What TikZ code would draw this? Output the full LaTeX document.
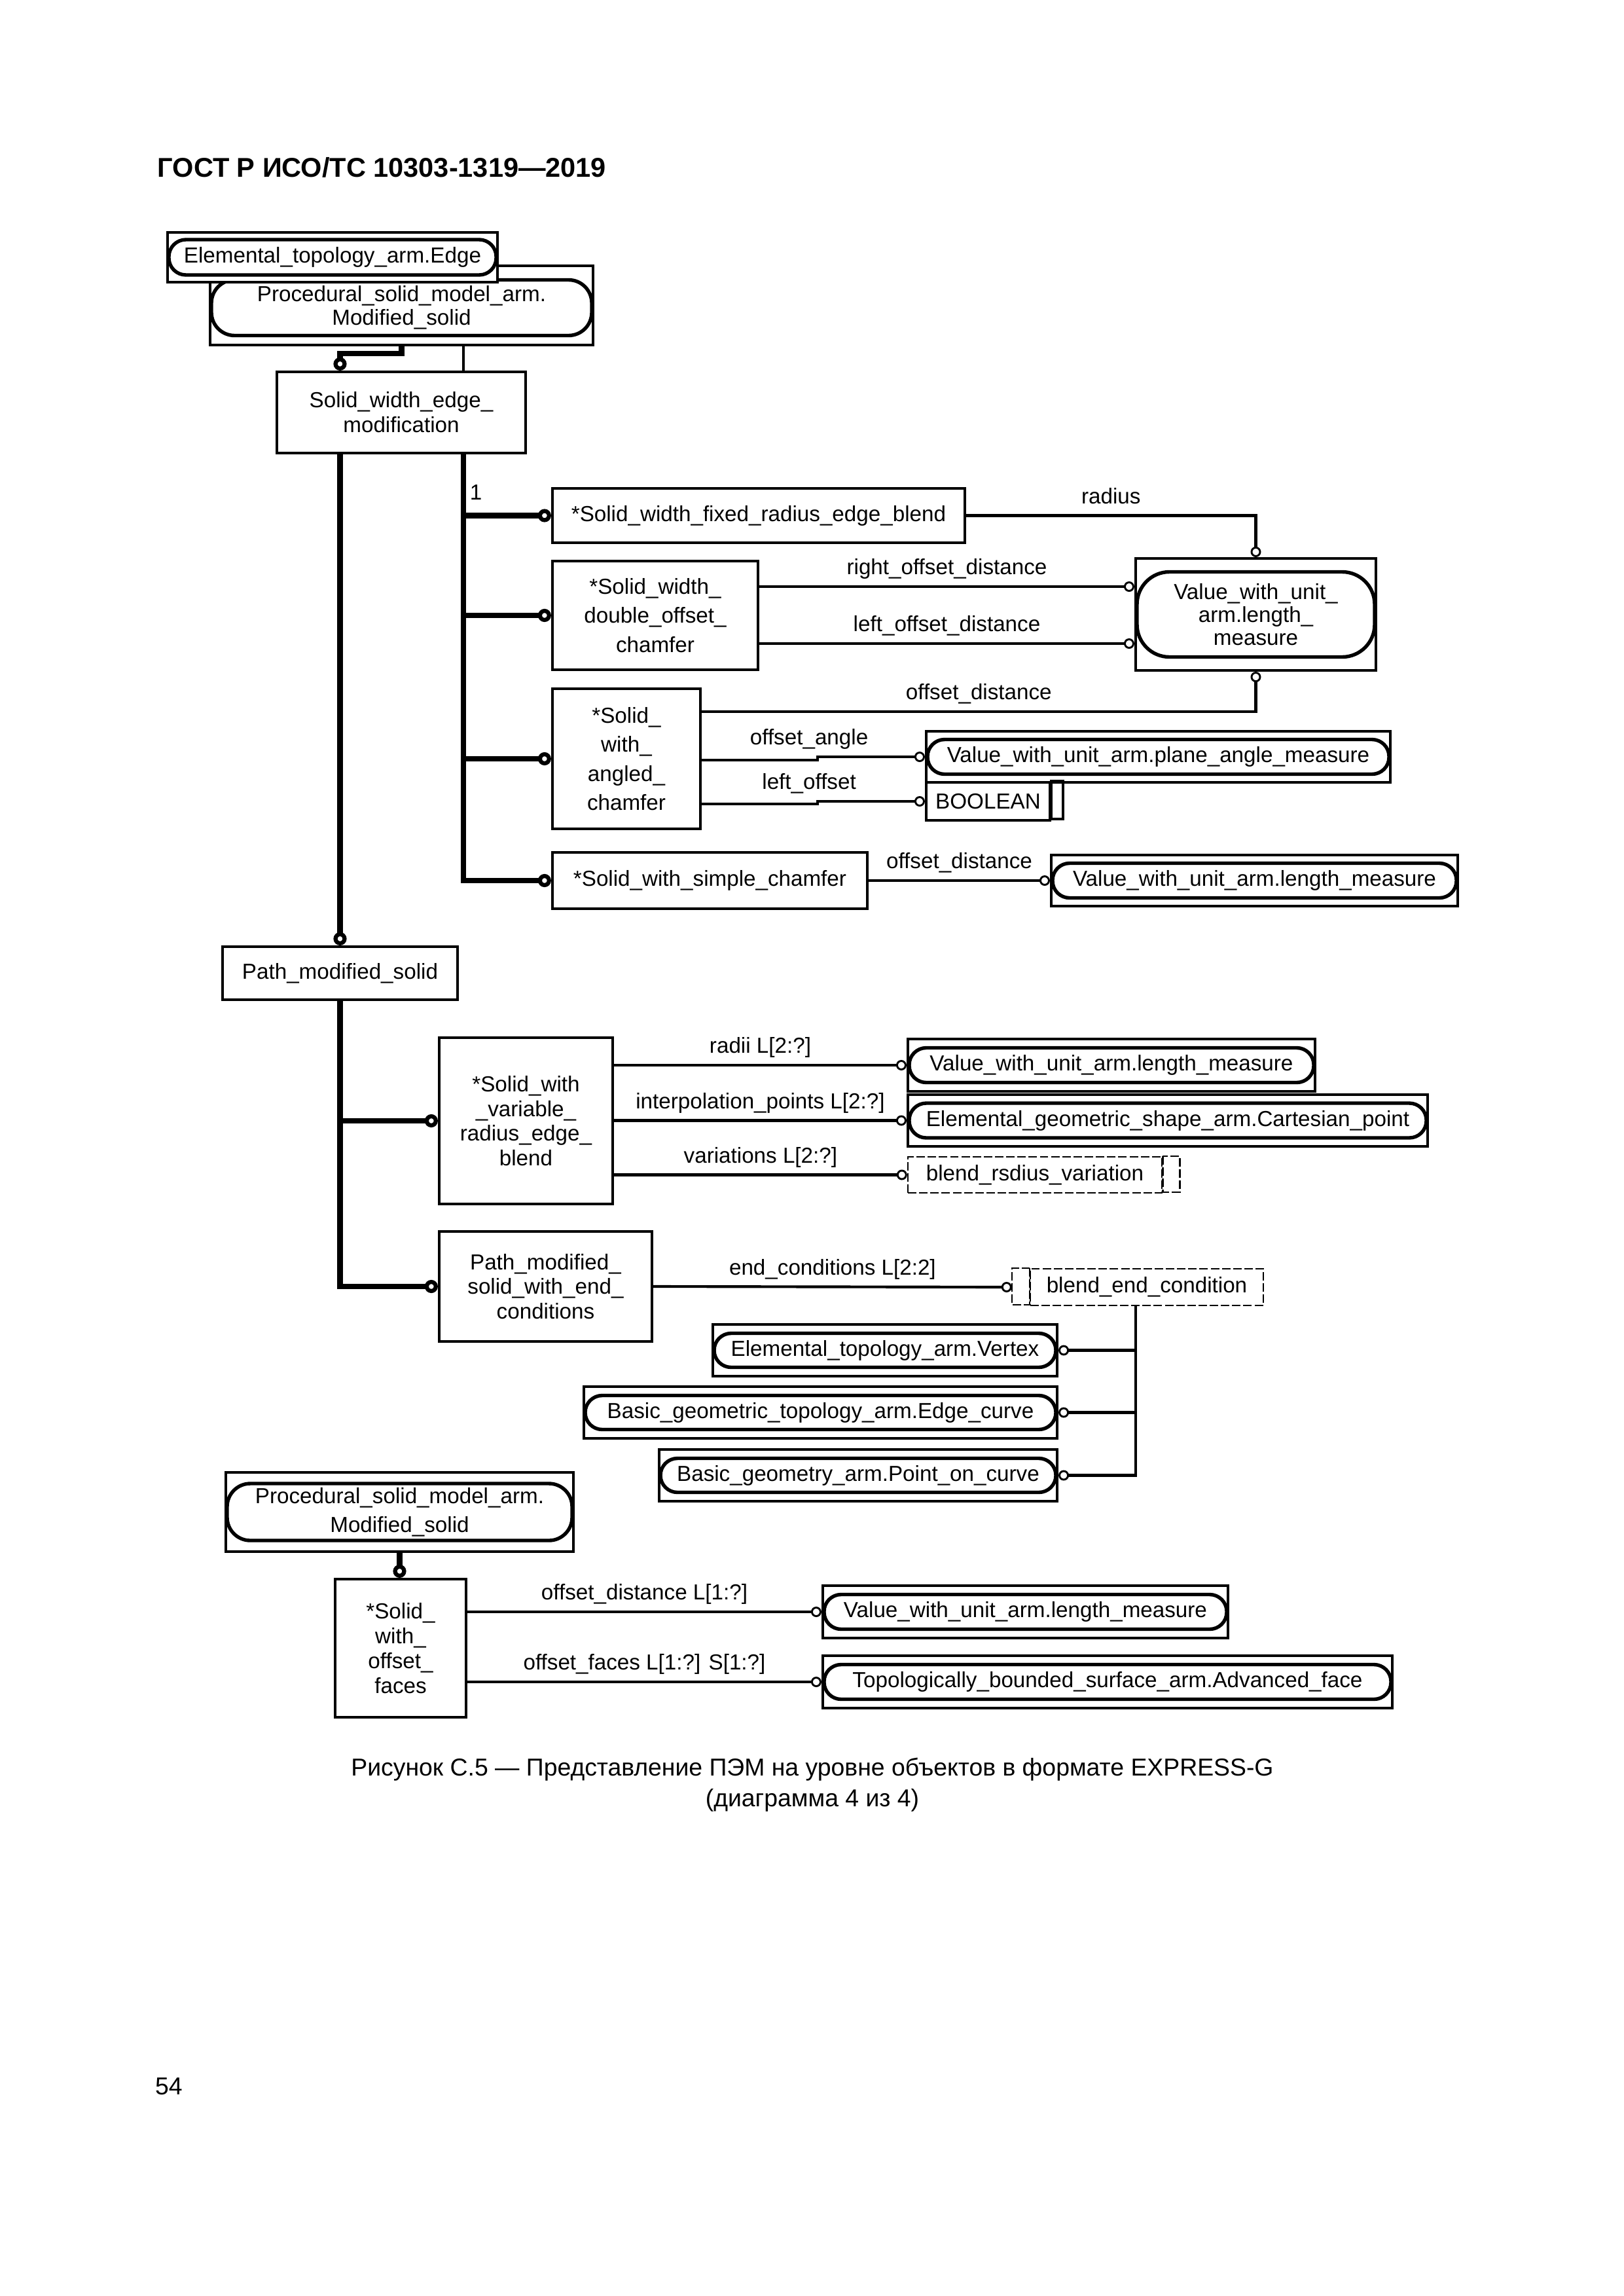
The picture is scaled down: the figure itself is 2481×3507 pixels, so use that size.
\documentclass[tikz,border=0pt]{standalone}
\usepackage{fontspec}
\setmainfont{Liberation Sans}
\usetikzlibrary{arrows.meta}
\newlength{\gpx}
\setlength{\gpx}{0.08467mm}

\begin{document}
\begin{tikzpicture}[
    x=0.08467mm, y=-0.08467mm,
    every node/.style={
      font=\fontsize{8}{9.1}\selectfont, align=center, inner sep=0pt
    },
    ent/.style={
      rectangle, draw, line width=1pt, fill=white
    },
    refbox/.style={
      rectangle, draw, line width=1pt, fill=white
    },
    refname/.style={
      rectangle, draw, line width=1.3pt, rounded corners=2.2mm
    },
    selline/.style={
      line width=0.6pt, dash pattern=on 1.1mm off 0.35mm
    },
    seltype/.style={
      rectangle, draw, selline
    },
    lbl/.style={
      text height=6pt, text depth=1.7pt
    },
    subl/.style={
      line width=2pt, -{Circle[open, line width=1.5pt, length=1.7mm, width=1.7mm]}
    },
    rell/.style={
      line width=1pt, -{Circle[open, line width=0.7pt, length=1.35mm, width=1.35mm]}
    }
    ]
  \fill[white] (0,0) rectangle (2481,3507);

  \node[anchor=base west, font=\bfseries\fontsize{10}{12}\selectfont] (hdr) at (240,270) {ГОСТ Р ИСО/ТС 10303-1319—2019};

  \node[refbox, minimum width=585\gpx, minimum height=121\gpx] (psmA) at (613.5,466.5) {};
  \node[refname, minimum width=581\gpx, minimum height=85\gpx, rounded corners=3mm, font=\fontsize{8}{8.6}\selectfont] (psmAt) at (613.5,470) {Procedural\_solid\_model\_arm.\\Modified\_solid};
  \node[refbox, minimum width=504\gpx, minimum height=76\gpx] (edg) at (508,393) {};
  \node[refname, minimum width=500\gpx, minimum height=54\gpx] (edgt) at (edg) {Elemental\_topology\_arm.Edge};

  \node[ent, minimum width=380\gpx, minimum height=124\gpx] (swem) at (613,630) {Solid\_width\_edge\_\\modification};
  \node[ent, minimum width=359\gpx, minimum height=81\gpx] (pms) at (519.5,1486.5) {Path\_modified\_solid};

  \node[ent, minimum width=630\gpx, minimum height=83\gpx] (fixed) at (1159,787.5) {*Solid\_width\_fixed\_radius\_edge\_blend};
  \node[ent, minimum width=314\gpx, minimum height=166\gpx, font=\fontsize{8}{10.7}\selectfont] (dbl) at (1001,940) {*Solid\_width\_\\double\_offset\_\\chamfer};
  \node[ent, minimum width=226\gpx, minimum height=214\gpx, font=\fontsize{8}{10.7}\selectfont] (ang) at (957,1159) {*Solid\_\\with\_\\angled\_\\chamfer};
  \node[ent, minimum width=481\gpx, minimum height=86\gpx] (smp) at (1084.5,1345) {*Solid\_with\_simple\_chamfer};

  \node[refbox, minimum width=367\gpx, minimum height=171\gpx] (vlmA) at (1918.5,938.5) {};
  \node[refname, minimum width=363\gpx, minimum height=130\gpx, rounded corners=4.2mm, font=\fontsize{8}{8.5}\selectfont] (vlmAt) at (vlmA) {Value\_with\_unit\_\\arm.length\_\\measure};
  \node[refbox, minimum width=709\gpx, minimum height=78\gpx] (pam) at (1769.5,1156) {};
  \node[refname, minimum width=705\gpx, minimum height=53\gpx] (pamt) at (pam) {Value\_with\_unit\_arm.plane\_angle\_measure};
  \node[ent, minimum width=189\gpx, minimum height=58\gpx] (bool) at (1509.5,1224) {BOOLEAN};
  \node[refbox, minimum width=621\gpx, minimum height=78\gpx] (vlmB) at (1916.5,1345) {};
  \node[refname, minimum width=617\gpx, minimum height=53\gpx] (vlmBt) at (vlmB) {Value\_with\_unit\_arm.length\_measure};

  \node[ent, minimum width=265\gpx, minimum height=254\gpx] (var) at (803.5,1712) {*Solid\_with\\\_variable\_\\radius\_edge\_\\blend};
  \node[ent, minimum width=325\gpx, minimum height=168\gpx] (pmsec) at (833.5,1965) {Path\_modified\_\\solid\_with\_end\_\\conditions};

  \node[refbox, minimum width=622\gpx, minimum height=80\gpx] (vlmC) at (1698,1627) {};
  \node[refname, minimum width=618\gpx, minimum height=53\gpx] (vlmCt) at (vlmC) {Value\_with\_unit\_arm.length\_measure};
  \node[refbox, minimum width=794\gpx, minimum height=79\gpx] (cpt) at (1784,1711.5) {};
  \node[refname, minimum width=790\gpx, minimum height=53\gpx] (cptt) at (cpt) {Elemental\_geometric\_shape\_arm.Cartesian\_point};
  \node[seltype, minimum width=388\gpx, minimum height=55\gpx] (brv) at (1581,1794.5) {blend\_rsdius\_variation};
  \node[seltype, minimum width=356\gpx, minimum height=56\gpx] (bec) at (1752,1966) {blend\_end\_condition};

  \node[refbox, minimum width=526\gpx, minimum height=79\gpx] (vtx) at (1352,2062.5) {};
  \node[refname, minimum width=522\gpx, minimum height=52\gpx] (vtxt) at (vtx) {Elemental\_topology\_arm.Vertex};
  \node[refbox, minimum width=723\gpx, minimum height=79\gpx] (ecv) at (1253.5,2157.5) {};
  \node[refname, minimum width=719\gpx, minimum height=52\gpx] (ecvt) at (ecv) {Basic\_geometric\_topology\_arm.Edge\_curve};
  \node[refbox, minimum width=608\gpx, minimum height=79\gpx] (poc) at (1311,2253.5) {};
  \node[refname, minimum width=604\gpx, minimum height=52\gpx] (poct) at (poc) {Basic\_geometry\_arm.Point\_on\_curve};

  \node[refbox, minimum width=531\gpx, minimum height=121\gpx] (psmB) at (610.5,2309.5) {};
  \node[refname, minimum width=527\gpx, minimum height=87\gpx, rounded corners=3mm, font=\fontsize{8}{10.7}\selectfont] (psmBt) at (psmB) {Procedural\_solid\_model\_arm.\\Modified\_solid};
  \node[ent, minimum width=200\gpx, minimum height=211\gpx] (swof) at (612,2517.5) {*Solid\_\\with\_\\offset\_\\faces};
  \node[refbox, minimum width=619\gpx, minimum height=80\gpx] (vlmD) at (1566.5,2462) {};
  \node[refname, minimum width=615\gpx, minimum height=53\gpx] (vlmDt) at (vlmD) {Value\_with\_unit\_arm.length\_measure};
  \node[refbox, minimum width=870\gpx, minimum height=80\gpx] (abf) at (1692,2569) {};
  \node[refname, minimum width=866\gpx, minimum height=53\gpx] (abft) at (abf) {Topologically\_bounded\_surface\_arm.Advanced\_face};

  \draw[line width=0.8pt] (bool.north east) rectangle ++(18,58);
  \draw[selline] (brv.north east) rectangle ++(26,55);
  \draw[selline] (bec.north west) rectangle ++(-27,56);

  \coordinate (trk) at (708,700);
  \coordinate (bj) at (1735,2000);

  \draw[subl] (psmA.south) -- ++(0,11) -| (swem.north -| pms.north);
  \draw[line width=1pt] (psmA.south -| trk) -- (swem.north -| trk);
  \draw[subl] (swem.south -| pms.north) -- (pms.north);
  \draw[subl] (swem.south -| trk) |- (smp.west);
  \draw[subl] (fixed.west -| trk) -- (fixed.west);
  \draw[subl] (dbl.west -| trk) -- (dbl.west);
  \draw[subl] (ang.west -| trk) -- (ang.west);
  \node (one) at (727,752) {1};

  \draw[rell] (fixed.east) -| node[lbl, pos=0.25, above=2.2pt] (lrad) {radius} (vlmA.north);
  \draw[rell] (dbl.east |- 0,896) -- node[lbl, above=2.2pt] (lrod) {right\_offset\_distance} (vlmA.west |- 0,896);
  \draw[rell] (dbl.east |- 0,983) -- node[lbl, above=2.2pt] (llod) {left\_offset\_distance} (vlmA.west |- 0,983);
  \draw[rell] (ang.east |- 0,1087) -| node[lbl, pos=0.25, above=2.2pt] (lod) {offset\_distance} (vlmA.south);
  \draw[rell] (ang.east |- 0,1161) -- ++(177,0) -- ++(0,-5) node[lbl, above=2.2pt, xshift=-13\gpx] (loa) {offset\_angle} -- (pam.west);
  \draw[rell] (ang.east |- 0,1228) -- ++(177,0) -- ++(0,-4) node[lbl, above=2.2pt, xshift=-13\gpx] (llo) {left\_offset} -- (bool.west);
  \draw[rell] (smp.east) -- node[lbl, above=2.2pt] (lods) {offset\_distance} (vlmB.west);

  \draw[subl] (pms.south) |- (pmsec.west);
  \draw[subl] (var.west -| pms.south) -- (var.west);
  \draw[rell] (var.east |- vlmC.west) -- node[lbl, above=2.2pt] (lrad2) {radii L[2:?]} (vlmC.west);
  \draw[rell] (var.east |- cpt.west) -- node[lbl, above=2.2pt] (lip) {interpolation\_points L[2:?]} (cpt.west);
  \draw[rell] (var.east |- brv.west) -- node[lbl, above=2.2pt] (lvar) {variations L[2:?]} (brv.west);
  \draw[rell] (pmsec.east) -- node[lbl, above=2.2pt] (lec) {end\_conditions L[2:2]} ([xshift=-27\gpx]bec.west);
  \draw[rell] (bec.south -| bj) |- (poc.east);
  \draw[rell] (vtx.east -| bj) -- (vtx.east);
  \draw[rell] (ecv.east -| bj) -- (ecv.east);

  \draw[subl] (psmB.south) -- (psmB.south |- swof.north);
  \draw[rell] (swof.east |- vlmD.west) -- node[lbl, above=2.2pt] (lodl) {offset\_distance L[1:?]} (vlmD.west);
  \draw[rell] (swof.east |- abf.west) -- node[lbl, above=2.2pt] (lof) {offset\_faces L[1:?] S[1:?]} (abf.west);

  \node[font=\fontsize{9}{11.3}\selectfont] (cap) at (1241,2726) {Рисунок С.5 — Представление ПЭМ на уровне объектов в формате EXPRESS-G\\(диаграмма 4 из 4)};
  \node[font=\fontsize{9}{11}\selectfont] (pg) at (258,3187) {54};
\end{tikzpicture}
\end{document}
